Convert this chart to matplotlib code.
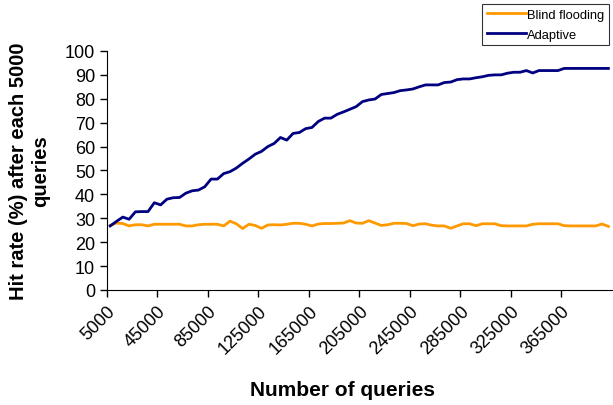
import matplotlib
matplotlib.use("Agg")
import matplotlib.pyplot as plt

plt.rcParams['font.family'] = ['Liberation Sans', 'DejaVu Sans']

# queries 5000, 10000, ... 400000
queries = [5000 * (i + 1) for i in range(80)]

adaptive = [26.8, 28.7, 30.5, 29.6, 32.7, 32.8, 32.8, 36.5, 35.6, 38.0,
            38.6, 38.7, 40.5, 41.5, 41.8, 43.2, 46.4, 46.4, 48.7, 49.5,
            51.0, 53.0, 54.8, 56.8, 58.0, 60.0, 61.3, 63.8, 62.7, 65.5,
            65.9, 67.5, 68.0, 70.5, 71.9, 71.9, 73.5, 74.5, 75.6, 76.7,
            78.8, 79.5, 79.9, 81.8, 82.2, 82.6, 83.4, 83.7, 84.1, 85.0,
            85.8, 85.8, 85.8, 86.8, 87.0, 88.0, 88.3, 88.3, 88.8, 89.2,
            89.8, 90.0, 90.0, 90.7, 91.1, 91.1, 91.8, 90.8, 91.8, 91.8,
            91.8, 91.8, 92.7, 92.7, 92.7, 92.7, 92.7, 92.7, 92.7, 92.7]

blind = [27.0, 28.0, 27.8, 26.8, 27.3, 27.3, 26.8, 27.5, 27.5, 27.5,
         27.5, 27.5, 26.8, 26.8, 27.3, 27.5, 27.5, 27.5, 26.8, 28.8,
         27.7, 25.7, 27.5, 27.0, 25.8, 27.2, 27.3, 27.2, 27.5, 27.9,
         27.9, 27.5, 26.8, 27.6, 27.8, 27.8, 27.9, 28.0, 29.0, 28.0,
         27.9, 29.0, 28.0, 27.0, 27.3, 27.9, 27.9, 27.8, 26.9, 27.6,
         27.7, 27.1, 26.8, 26.8, 25.8, 26.8, 27.7, 27.7, 26.9, 27.7,
         27.7, 27.7, 26.9, 26.8, 26.8, 26.8, 26.8, 27.5, 27.7, 27.7,
         27.7, 27.7, 26.9, 26.8, 26.8, 26.8, 26.8, 26.8, 27.6, 26.6]

tick_labels = [str(5000 + 40000 * k) for k in range(10)]

fig = plt.figure(figsize=(6.13, 4.06), dpi=100)
ax = fig.add_axes([0.1746, 0.2833, 0.823, 0.5887])

ax.plot(queries, blind, color='#FF9900', lw=2, label='Blind flooding')
ax.plot(queries, adaptive, color='#000080', lw=2, label='Adaptive')

ax.set_xlim(2500, 402500)
ax.set_ylim(0, 100)
ax.set_yticks(range(0, 101, 10))
ax.set_xticks([2500 + 40000 * k for k in range(10)])
ax.set_xticklabels(tick_labels, rotation=45, ha='right', rotation_mode='anchor')
ax.tick_params(axis='both', labelsize=13, direction='out', length=5, width=1)

ax.spines['top'].set_visible(False)
ax.spines['right'].set_visible(False)

ax.set_xlabel('Number of queries', fontsize=15, fontweight='bold')
ax.xaxis.set_label_coords(0.466, -0.375)
ax.set_ylabel('Hit rate (%) after each 5000\nqueries', fontsize=14.5, fontweight='bold')
ax.yaxis.set_label_coords(-0.113, 0.5)

leg = fig.legend(loc='upper right', bbox_to_anchor=(0.997, 0.993), fontsize=9.3,
                 fancybox=False, edgecolor='black', handlelength=3.0,
                 handletextpad=0.1, borderpad=0.35, labelspacing=0.6,
                 borderaxespad=0.2)
leg.get_frame().set_linewidth(0.8)

fig.savefig('out.png', dpi=100)
